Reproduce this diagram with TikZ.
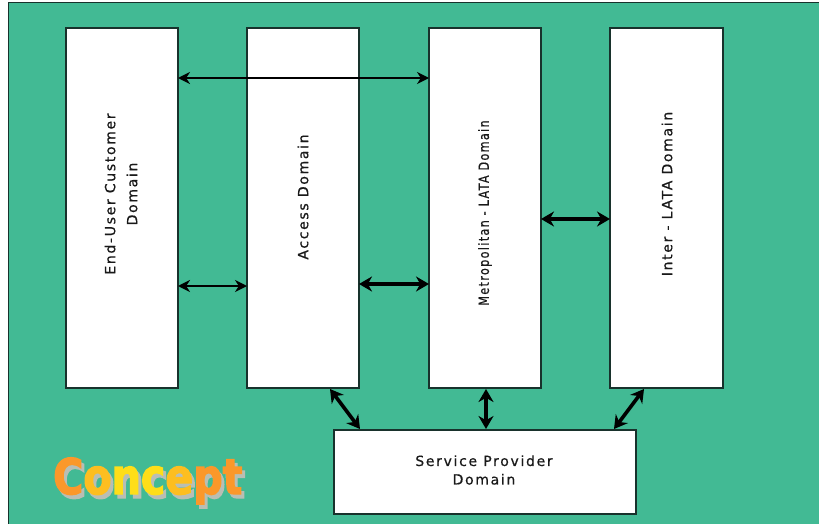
\documentclass[tikz,border=0pt]{standalone}
\usepackage{fontspec}
\setmainfont{DejaVu Sans}
\newfontfamily\lblfont[LetterSpace=12,FakeBold=0.6]{DejaVu Sans}
\newfontfamily\cptfont[FakeBold=3]{DejaVu Sans Bold}
\usetikzlibrary{arrows.meta}
\definecolor{bgteal}{RGB}{66,186,148}
\definecolor{edgedark}{RGB}{24,50,44}
\definecolor{shadowgray}{RGB}{185,190,180}
\definecolor{cOrange}{RGB}{251,152,42}
\definecolor{cMid}{RGB}{253,190,32}
\definecolor{cYellow}{RGB}{254,222,25}
\tikzset{
  x=1pt,y=-1pt,
  domainbox/.style={draw=edgedark,line width=1.6pt,fill=white,anchor=north west,inner sep=0pt,outer sep=0pt},
  lbl/.style={font=\lblfont\fontsize{14}{20}\selectfont,align=center,text=black!90,inner sep=0pt},
  thinarrow/.style={{Stealth[length=12pt,width=12pt]}-{Stealth[length=12pt,width=12pt]},line width=2.4pt,black},
  thickarrow/.style={{Stealth[length=13pt,width=15pt]}-{Stealth[length=13pt,width=15pt]},line width=3.6pt,black},
}
\begin{document}
\begin{tikzpicture}
\useasboundingbox (0,0) rectangle (819,524);
\fill[white] (0,0) rectangle (819,524);
\path[fill=bgteal,draw=edgedark,line width=1pt] (8.5,2.5) rectangle (825,530);
\node[domainbox,minimum width=112pt,minimum height=360pt] (eu) at (66,28) {};
\node[domainbox,minimum width=112pt,minimum height=360pt] (acc) at (247,28) {};
\node[domainbox,minimum width=112pt,minimum height=360pt] (met) at (429,28) {};
\node[domainbox,minimum width=113pt,minimum height=360pt] (inter) at (610,28) {};
\node[domainbox,minimum width=302pt,minimum height=84pt] (sp) at (334,430) {};
\node[lbl,rotate=90,font=\lblfont\fontsize{14}{22}\selectfont] (eut) at (121,194) {End-User Customer\\Domain};
\node[lbl,rotate=90] (act) at (303,197) {Access Domain};
\node[lbl,rotate=90] (mett) at (485,213) {\scalebox{.8}[1]{Metropolitan - LATA Domain}};
\node[lbl,rotate=90] (intt) at (667,194) {Inter - LATA Domain};
\node[lbl,font=\lblfont\fontsize{14}{18.5}\selectfont] (spt) at (484,470) {Service Provider\\Domain};
\coordinate (a1) at (eu.east |- 0,78);
\coordinate (a2) at (met.west |- 0,78);
\coordinate (b1) at (eu.east |- 0,286);
\coordinate (b2) at (acc.west |- 0,286);
\coordinate (c1) at (acc.east |- 0,284);
\coordinate (c2) at (met.west |- 0,284);
\coordinate (d1) at (met.east |- 0,219);
\coordinate (d2) at (inter.west |- 0,219);
\coordinate (e1) at (330,389);
\coordinate (e2) at (360,429);
\coordinate (f1) at (486,389);
\coordinate (f2) at (486,429);
\coordinate (g1) at (644,389);
\coordinate (g2) at (614,429);
\draw[thinarrow] (a1) -- (a2);
\draw[thinarrow] (b1) -- (b2);
\draw[thickarrow] (c1) -- (c2);
\draw[thickarrow] (d1) -- (d2);
\draw[thickarrow] (e1) -- (e2);
\draw[thickarrow] (f1) -- (f2);
\draw[thickarrow] (g1) -- (g2);
\node[font=\cptfont\fontsize{49}{49}\selectfont,text=shadowgray,xscale=.84,anchor=base west,inner sep=0pt] (cpts) at (56,498) {Concept};
\node[font=\cptfont\fontsize{49}{49}\selectfont,xscale=.84,anchor=base west,inner sep=0pt] (cpt) at (53,494) {\textcolor{cOrange}{C}\textcolor{cMid}{o}\textcolor{cYellow}{n}\textcolor{cYellow}{c}\textcolor{cMid}{e}\textcolor{cOrange}{p}\textcolor{cOrange}{t}};
\end{tikzpicture}
\end{document}
